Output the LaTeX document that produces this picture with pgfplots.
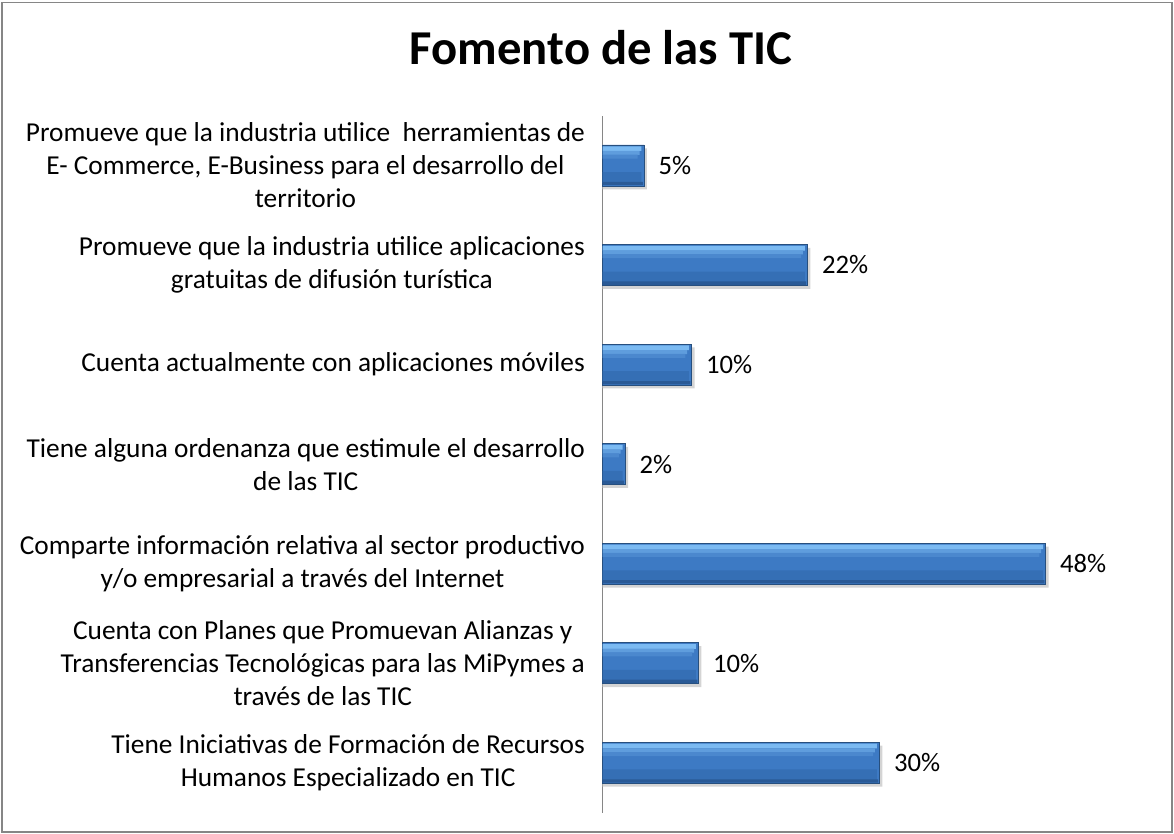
\documentclass[border=0pt]{standalone}
\usepackage{pgfplots}
\usepackage{pgfplotstable}
\pgfplotsset{compat=1.18}
\usepackage{fontspec}
\setmainfont{Carlito}
\definecolor{barmid}{HTML}{3D7AC4}
\definecolor{bartop}{HTML}{7BBAF2}
\definecolor{barlow}{HTML}{356FB5}
\definecolor{barbot}{HTML}{2A5A96}
\definecolor{baredge}{HTML}{274F7E}
\definecolor{barshadow}{HTML}{D4D4D4}
\definecolor{axisgray}{HTML}{868686}
\pgfplotstableread{
x     y  lab
30.0  0  30\%
10.4  1  10\%
48.0  2  48\%
2.45  3  2\%
9.65  4  10\%
22.2  5  22\%
4.5   6  5\%
}\datatab
\begin{document}
\begin{tikzpicture}
\useasboundingbox (0,0) rectangle (880.5pt,625.5pt);
\draw[axisgray, line width=1pt] (1.5pt,1.5pt) rectangle (879pt,623.5pt);
\node[font=\fontsize{36.5}{40}\selectfont\bfseries] at (450.75pt,589.5pt) {Fomento de las TIC};
\begin{axis}[
  at={(452pt,16.05pt)}, anchor=south west,
  scale only axis, width=380.8pt, height=522.7pt,
  xmin=0, xmax=55, ymin=-0.5, ymax=6.5,
  xbar, bar width=30.75pt,
  axis x line=none,
  axis y line=left,
  y axis line style={-, draw=axisgray, line width=0.8pt},
  ytick={0,1,2,3,4,5,6},
  ytick style={draw=none},
  yticklabels={
    {Tiene Iniciativas de Formación de Recursos\\Humanos Especializado en TIC},
    {Cuenta con Planes que Promuevan Alianzas y\\Transferencias Tecnológicas para las MiPymes a\\través de las TIC},
    {Comparte información relativa al sector productivo\\y/o empresarial a través del Internet},
    {Tiene alguna ordenanza que estimule el desarrollo\\de las TIC},
    {Cuenta actualmente con aplicaciones móviles},
    {Promueve que la industria utilice aplicaciones\\gratuitas de difusión turística},
    {Promueve que la industria utilice\ \ herramientas de\\E- Commerce, E-Business para el desarrollo del\\territorio}
  },
  yticklabel style={align=center, font=\fontsize{20.5}{24.75}\selectfont, inner sep=0pt, xshift=-11pt},
  clip=false,
]
% soft shadow
\addplot[draw=none, fill=barshadow, bar shift=-2.5pt, forget plot]
  table[x expr=\thisrow{x}+0.3, y=y] {\datatab};
% main bar body
\addplot[draw=baredge, line width=0.6pt, fill=barmid, bar shift=0pt,
  point meta=explicit symbolic, nodes near coords,
  nodes near coords style={anchor=west, inner sep=0pt, xshift=10.5pt, font=\fontsize{20}{22}\selectfont, text=black}]
  table[x=x, y=y, meta=lab] {\datatab};
% top light bevel
\addplot[draw=none, fill=bartop, bar width=3.5pt, bar shift=12.6pt, forget plot]
  table[x expr=\thisrow{x}-0.3, y=y] {\datatab};
\addplot[draw=none, fill=bartop!55!barmid, bar width=3pt, bar shift=9.4pt, forget plot]
  table[x expr=\thisrow{x}-0.5, y=y] {\datatab};
\addplot[draw=none, fill=bartop!22!barmid, bar width=3pt, bar shift=6.6pt, forget plot]
  table[x expr=\thisrow{x}-0.7, y=y] {\datatab};
% lower darker body
\addplot[draw=none, fill=barlow, bar width=8pt, bar shift=-9pt, forget plot]
  table[x expr=\thisrow{x}-0.3, y=y] {\datatab};
% bottom dark bevel
\addplot[draw=none, fill=barbot, bar width=2.5pt, bar shift=-13.6pt, forget plot]
  table[x expr=\thisrow{x}-0.15, y=y] {\datatab};
\end{axis}
\end{tikzpicture}
\end{document}
